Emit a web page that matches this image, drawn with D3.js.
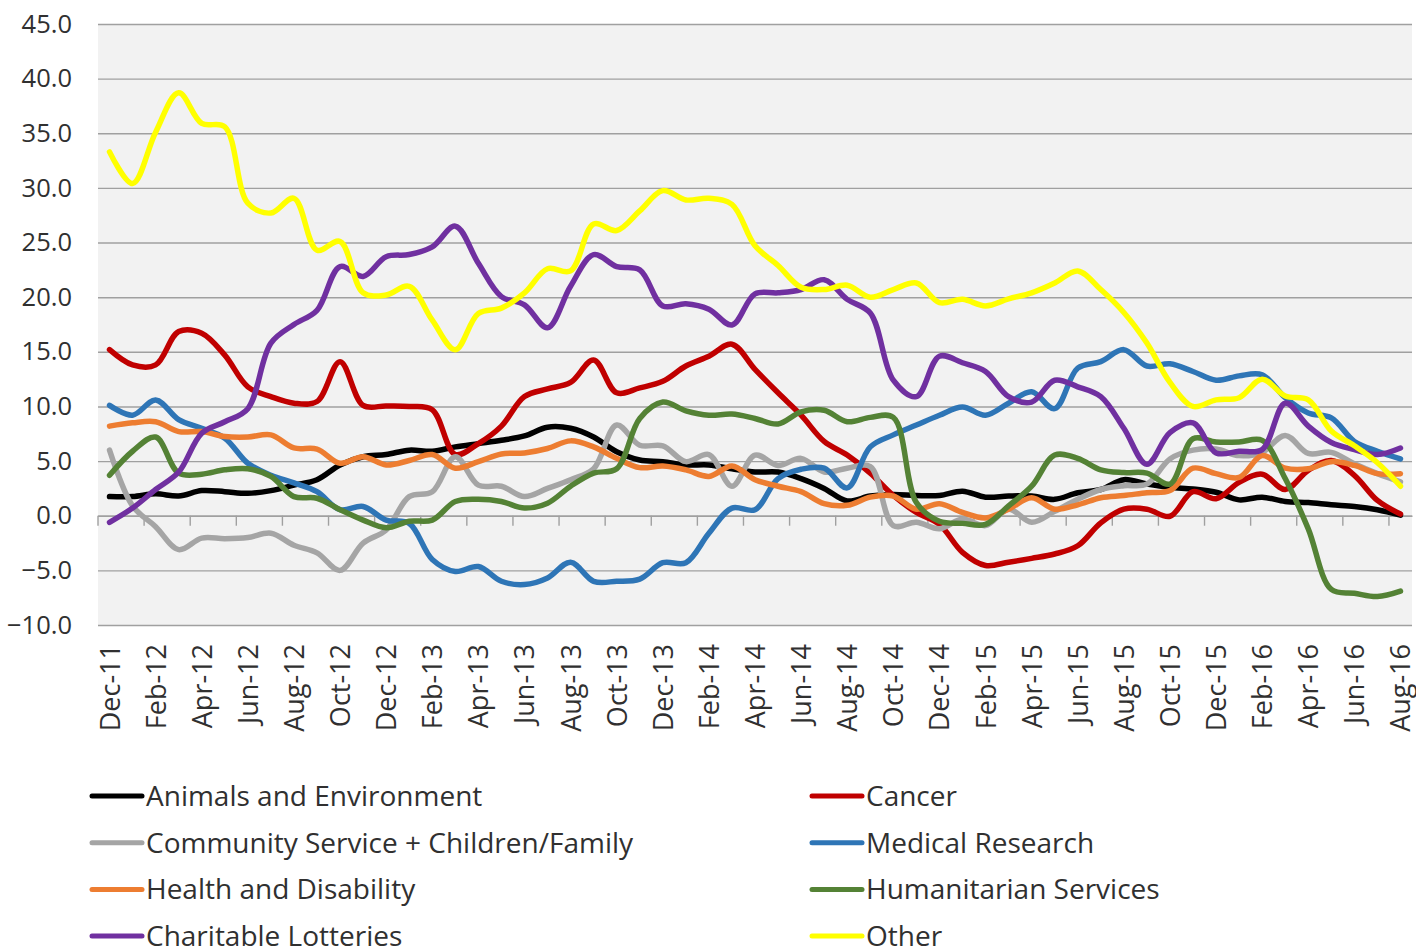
<!DOCTYPE html>
<html lang="en">
<head>
  <meta charset="UTF-8">
  <title>Donations by cause</title>
  <script src="https://cdn.jsdelivr.net/npm/d3@7"></script>
  <style>
    body { margin: 0; background: #fff; }
    text { font-family: "Open Sans", "Noto Sans", sans-serif; fill: #303030; }
  </style>
</head>
<body>
  <script>
    // months Dec-11 .. Aug-16
    const months = ['Dec-11','Jan-12','Feb-12','Mar-12','Apr-12','May-12','Jun-12','Jul-12','Aug-12','Sep-12','Oct-12','Nov-12',
      'Dec-12','Jan-13','Feb-13','Mar-13','Apr-13','May-13','Jun-13','Jul-13','Aug-13','Sep-13','Oct-13','Nov-13',
      'Dec-13','Jan-14','Feb-14','Mar-14','Apr-14','May-14','Jun-14','Jul-14','Aug-14','Sep-14','Oct-14','Nov-14',
      'Dec-14','Jan-15','Feb-15','Mar-15','Apr-15','May-15','Jun-15','Jul-15','Aug-15','Sep-15','Oct-15','Nov-15',
      'Dec-15','Jan-16','Feb-16','Mar-16','Apr-16','May-16','Jun-16','Jul-16','Aug-16']

    const yTicks = [-10, -5, 0, 5, 10, 15, 20, 25, 30, 35, 40, 45]

    const animals = [1.75, 1.75, 2.0, 1.8, 2.3, 2.2, 2.05, 2.3, 2.8, 3.3, 4.65, 5.4, 5.6, 6.0, 5.9, 6.3, 6.6, 6.9, 7.3, 8.1,
      8.0, 7.2, 5.85, 5.1, 4.95, 4.65, 4.65, 4.3, 4.0, 4.0, 3.4, 2.5, 1.35, 1.8, 1.95, 1.85, 1.85, 2.25, 1.7, 1.8,
      1.8, 1.5, 2.1, 2.4, 3.3, 2.9, 2.6, 2.45, 2.15, 1.45, 1.7, 1.3, 1.2, 1.0, 0.85, 0.55, 0.05]
    const cancer = [15.2, 13.8, 13.8, 16.85, 16.7, 14.7, 11.8, 10.9, 10.3, 10.45, 14.1, 10.1, 10.05, 10.0, 9.7, 5.6, 6.6, 8.2, 10.9, 11.6,
      12.2, 14.25, 11.25, 11.7, 12.3, 13.7, 14.6, 15.7, 13.4, 11.25, 9.2, 6.8, 5.55, 3.9, 1.85, 0.3, -0.8, -3.35, -4.55, -4.25,
      -3.9, -3.5, -2.75, -0.65, 0.6, 0.6, -0.05, 2.2, 1.55, 3.05, 3.8, 2.4, 4.15, 5.05, 3.7, 1.4, 0.15]
    const community = [6.0, 0.9, -1.0, -3.1, -2.05, -2.1, -2.0, -1.6, -2.7, -3.4, -5.0, -2.5, -1.3, 1.75, 2.2, 5.4, 2.8, 2.7, 1.75, 2.5,
      3.3, 4.3, 8.3, 6.45, 6.4, 4.95, 5.6, 2.7, 5.55, 4.6, 5.25, 4.0, 4.35, 4.5, -0.9, -0.6, -1.2, -0.3, -0.9, 0.6,
      -0.6, 0.4, 1.5, 2.4, 2.75, 2.9, 5.2, 6.0, 6.1, 5.5, 5.8, 7.35, 5.7, 5.8, 4.75, 3.85, 3.1]
    const medical = [10.1, 9.2, 10.6, 8.8, 8.0, 7.1, 4.8, 3.7, 3.0, 2.2, 0.55, 0.85, -0.4, -0.7, -4.0, -5.1, -4.65, -6.0, -6.3, -5.7,
      -4.25, -6.0, -6.0, -5.8, -4.3, -4.3, -1.6, 0.7, 0.55, 3.4, 4.25, 4.35, 2.55, 6.3, 7.4, 8.3, 9.2, 9.95, 9.2, 10.3,
      11.35, 9.8, 13.5, 14.1, 15.2, 13.7, 13.9, 13.2, 12.4, 12.8, 12.9, 10.8, 9.4, 8.95, 6.8, 5.9, 5.2]
    const health = [8.2, 8.5, 8.6, 7.7, 7.7, 7.25, 7.2, 7.4, 6.2, 6.1, 4.8, 5.4, 4.65, 5.05, 5.6, 4.35, 4.95, 5.65, 5.75, 6.15,
      6.85, 6.3, 5.25, 4.4, 4.55, 4.2, 3.6, 4.55, 3.3, 2.7, 2.2, 1.1, 0.95, 1.7, 1.8, 0.6, 1.1, 0.3, -0.2, 0.6,
      1.65, 0.6, 1.0, 1.65, 1.85, 2.1, 2.3, 4.35, 3.85, 3.5, 5.5, 4.35, 4.3, 4.95, 4.6, 3.85, 3.85]
    const humanitarian = [3.7, 5.9, 7.2, 3.9, 3.8, 4.2, 4.3, 3.6, 1.75, 1.6, 0.55, -0.4, -1.1, -0.5, -0.4, 1.3, 1.5, 1.3, 0.7, 1.15,
      2.7, 3.9, 4.3, 8.9, 10.4, 9.6, 9.2, 9.3, 8.9, 8.4, 9.5, 9.65, 8.6, 9.0, 9.0, 1.2, -0.5, -0.7, -0.8, 0.9,
      2.7, 5.55, 5.25, 4.2, 3.95, 3.9, 2.9, 7.05, 6.75, 6.75, 6.9, 3.4, -1.2, -6.75, -7.1, -7.4, -6.9]
    const lotteries = [-0.6, 0.7, 2.4, 4.0, 7.55, 8.6, 9.8, 15.8, 17.5, 18.8, 22.8, 21.9, 23.7, 23.9, 24.6, 26.5, 23.1, 20.05, 19.3, 17.2,
      21.0, 23.9, 22.8, 22.5, 19.2, 19.4, 18.9, 17.45, 20.3, 20.4, 20.7, 21.6, 19.8, 18.55, 12.4, 10.9, 14.6, 14.0, 13.2, 10.9,
      10.4, 12.4, 11.8, 10.9, 8.0, 4.7, 7.6, 8.5, 5.75, 5.9, 6.05, 10.3, 8.2, 6.7, 6.05, 5.6, 6.2]
    const other = [33.3, 30.4, 35.1, 38.7, 35.9, 35.6, 28.6, 27.7, 29.05, 24.3, 25.1, 20.4, 20.2, 21.0, 17.9, 15.2, 18.5, 19.0, 20.4, 22.6,
      22.4, 26.7, 26.1, 27.9, 29.75, 28.9, 29.05, 28.5, 24.7, 22.9, 20.9, 20.7, 21.1, 20.0, 20.7, 21.3, 19.5, 19.8, 19.2, 19.85,
      20.4, 21.3, 22.4, 20.7, 18.6, 15.8, 12.2, 10.0, 10.6, 10.8, 12.5, 10.95, 10.6, 7.75, 6.4, 4.85, 2.7]

    const seriesNames = ['Animals and Environment', 'Cancer', 'Community Service + Children/Family', 'Medical Research',
      'Health and Disability', 'Humanitarian Services', 'Charitable Lotteries', 'Other']
    const seriesValues = [animals, cancer, community, medical, health, humanitarian, lotteries, other]
    const seriesColors = ['#000000', '#c00000', '#a5a5a5', '#2e75b6', '#ed7d31', '#548235', '#7030a0', '#ffff00']

    const width = 1416, height = 947
    const plotLeft = 98, plotRight = 1412, plotTop = 24, plotBottom = 625

    const svg = d3.select('body').append('svg')
      .attr('width', width)
      .attr('height', height)

    const x = d3.scaleBand().domain(months).range([plotLeft, plotRight])
    const y = d3.scaleLinear().domain([-10, 45]).range([plotBottom, plotTop])

    // plot background
    svg.append('rect')
      .attr('x', plotLeft).attr('y', plotTop)
      .attr('width', plotRight - plotLeft).attr('height', plotBottom - plotTop)
      .attr('fill', '#f2f2f2')

    // horizontal gridlines + y labels
    const yAxis = d3.axisLeft(y)
      .tickValues(yTicks)
      .tickSize(-(plotRight - plotLeft))
      .tickPadding(26)
      .tickFormat(d3.format('.1f'))

    svg.append('g')
      .attr('transform', `translate(${plotLeft},0)`)
      .call(yAxis)
      .call(g => g.select('.domain').remove())
      .call(g => g.selectAll('.tick line').attr('stroke', '#a0a0a0').attr('stroke-width', 1.4))
      .call(g => g.selectAll('.tick text').attr('font-size', 25.5).attr('fill', '#303030'))

    // category axis sits on zero
    const xAxis = d3.axisBottom(x)
      .tickValues(months.filter((m, i) => i % 2 === 0))
      .tickSize(0)
      .tickPadding(0)

    const xg = svg.append('g')
      .attr('transform', `translate(0,${y(0)})`)
      .call(xAxis)
    xg.select('.domain').attr('stroke', '#a0a0a0').attr('stroke-width', 1.4)
    xg.selectAll('.tick text').remove()

    // tick marks between every 2nd category
    xg.selectAll('.cat-tick')
      .data(months.filter((m, i) => i % 2 === 0))
      .enter().append('line')
      .attr('x1', d => x(d)).attr('x2', d => x(d))
      .attr('y1', 0).attr('y2', 10)
      .attr('stroke', '#a0a0a0').attr('stroke-width', 1.4)

    // month labels below plot, rotated
    svg.append('g').selectAll('text')
      .data(months.filter((m, i) => i % 2 === 0))
      .enter().append('text')
      .attr('transform', d => `translate(${x(d) + x.bandwidth() / 2 + 10},${plotBottom + 19}) rotate(-90)`)
      .attr('text-anchor', 'end')
      .attr('font-size', 27)
      .text(d => d)

    // lines
    const line = d3.line()
      .x((d, i) => x(months[i]) + x.bandwidth() / 2)
      .y(d => y(d))
      .curve(d3.curveCatmullRom)

    svg.append('g').selectAll('path')
      .data(seriesValues)
      .enter().append('path')
      .attr('d', d => line(d))
      .attr('fill', 'none')
      .attr('stroke', (d, i) => seriesColors[i])
      .attr('stroke-width', 5.5)
      .attr('stroke-linejoin', 'round')
      .attr('stroke-linecap', 'round')

    // legend, two columns
    const legend = svg.append('g')
    const item = legend.selectAll('g')
      .data(seriesNames)
      .enter().append('g')
      .attr('transform', (d, i) => `translate(${i % 2 === 0 ? 92 : 812},${796 + Math.floor(i / 2) * 46.7})`)

    item.append('line')
      .attr('x1', 0).attr('x2', 50)
      .attr('stroke', (d, i) => seriesColors[i])
      .attr('stroke-width', 5)
      .attr('stroke-linecap', 'round')

    item.append('text')
      .attr('x', 54)
      .attr('dy', '0.35em')
      .attr('font-size', 28)
      .text(d => d)
  </script>
</body>
</html>
